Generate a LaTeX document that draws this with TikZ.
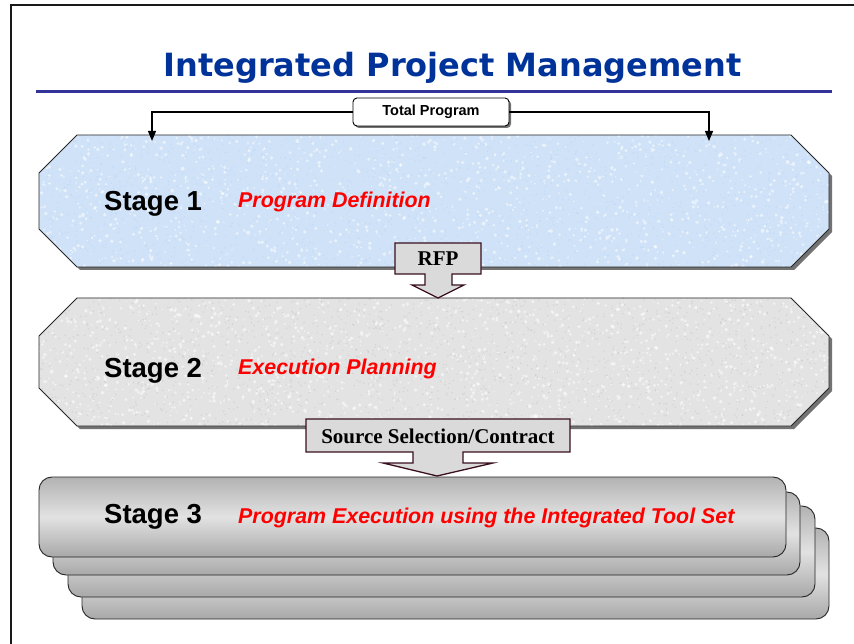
\documentclass[tikz,border=0pt]{standalone}
\usepackage{fontspec}
\setmainfont{Liberation Sans}
\newfontfamily\titlefont{DejaVu Sans}
\newfontfamily\bannerfont{Liberation Serif}
\usetikzlibrary{arrows.meta,shadows}

\definecolor{titleblue}{HTML}{003399}
\definecolor{rulecol}{HTML}{333399}
\definecolor{stageblue}{HTML}{CFE2F8}
\definecolor{speckblue}{HTML}{B8D2F2}
\definecolor{stagegray}{HTML}{E3E3E3}
\definecolor{bannerline}{HTML}{3A0F1F}
\definecolor{bannerfill}{HTML}{DADADA}
\definecolor{labelred}{HTML}{FF0000}
\definecolor{cardtop}{HTML}{B2B2B2}
\definecolor{cardmid}{HTML}{E2E2E2}
\definecolor{cardbot}{HTML}{A8A8A8}

% octagonal stage band: left x, top y, right x, bottom y
\newcommand\octband[4]{(#1+38,#2) -- (#3-38,#2) -- (#3,#2+38) -- (#3,#4-38)
  -- (#3-38,#4) -- (#1+38,#4) -- (#1,#4-38) -- (#1,#2+38) -- cycle}

% mottled surface: top y, height, count, light colour, dark colour
\newcommand\mottle[5]{%
  \foreach \k in {1,...,#3}{%
    \pgfmathsetmacro\mx{39+rnd*790}%
    \pgfmathsetmacro\my{#1+rnd*#2}%
    \pgfmathsetmacro\mr{0.6+rnd*1.4}%
    \fill[#4, opacity=0.55] (\mx,\my) circle (\mr);
    \pgfmathsetmacro\nx{39+rnd*790}%
    \pgfmathsetmacro\ny{#1+rnd*#2}%
    \fill[#5, opacity=0.45] (\nx,\ny) circle (0.8);
  }}

\tikzset{
  stageband/.style={draw=black!85, line width=0.9pt},
  bandshadow/.style={fill=black!55, draw=none},
  card/.style={draw=black!85, line width=0.9pt, rounded corners=13pt,
    top color=cardtop, bottom color=cardbot, middle color=cardmid},
  stagelabel/.style={anchor=base west, inner sep=0pt,
    font=\bfseries\fontsize{27.5}{27.5}\selectfont},
  stagetitle/.style={anchor=base west, inner sep=0pt, text=labelred,
    font=\bfseries\itshape\fontsize{21.4}{21.4}\selectfont},
  banner/.style={fill=bannerfill, draw=bannerline, line width=1.3pt, line join=miter},
  bannertext/.style={inner sep=0pt, font=\bannerfont\bfseries\fontsize{21}{21}\selectfont},
  totalbox/.style={draw=black, fill=white, line width=0.9pt, rounded corners=4pt,
    minimum width=156pt, minimum height=28pt, inner sep=0pt,
    font=\bfseries\fontsize{14.5}{14.5}\selectfont,
    drop shadow={shadow xshift=2pt, shadow yshift=-2pt, fill=black!55, opacity=1}},
  spread/.style={draw=black, line width=1.2pt, -{Triangle[length=10pt,width=8pt]}}
}

\begin{document}
\begin{tikzpicture}[x=1pt,y=-1pt]
\pgfmathsetseed{4242}
\useasboundingbox (0,0) rectangle (854,644);
\fill[white] (0,0) rectangle (854,644);

% page frame
\draw[black!90, line width=1.2pt] (11,644) -- (11,5) -- (854,5);

% heading and rule
\node[anchor=base, inner sep=0pt, text=titleblue,
  font=\titlefont\bfseries\fontsize{32}{32}\selectfont] (title) at (452.5,77)
  {Integrated Project Management};
\draw[rulecol, line width=3pt] (36,92) -- (832,92);

% stage 1 band
\fill[bandshadow] [shift={(3,3)}] \octband{39}{135}{829}{267};
\fill[stageblue] \octband{39}{135}{829}{267};
\begin{scope}
  \clip \octband{39}{135}{829}{267};
  \mottle{135}{132}{1400}{white}{speckblue}
\end{scope}
\draw[stageband] \octband{39}{135}{829}{267};
\node[stagelabel] (s1) at (104,211) {Stage 1};
\node[stagetitle] (s1t) at (238,208) {Program Definition};

% stage 2 band
\fill[bandshadow] [shift={(3,3)}] \octband{39}{298}{829}{426};
\fill[stagegray] \octband{39}{298}{829}{426};
\begin{scope}
  \clip \octband{39}{298}{829}{426};
  \mottle{298}{128}{1600}{white}{black!25}
\end{scope}
\draw[stageband] \octband{39}{298}{829}{426};
\node[stagelabel] (s2) at (104,377) {Stage 2};
\node[stagetitle] (s2t) at (238,374) {Execution Planning};

% stage 3: stacked cards, back to front
\path[card] (82,528) rectangle (829,619);
\path[card] (68,506) rectangle (815,597);
\path[card] (53,492) rectangle (800,575);
\path[card] (39,477) rectangle (786,557);
\node[stagelabel] (s3) at (104,523) {Stage 3};
\node[stagetitle] (s3t) at (238,523) {Program Execution using the Integrated Tool Set};

% banner arrows between stages
\filldraw[banner] (395,243) -- (481,243) -- (481,274) -- (452,274) -- (452,285)
  -- (464,285) -- (438,298) -- (412,285) -- (425,285) -- (425,274)
  -- (395,274) -- cycle;
\node[bannertext] (rfp) at (438,259) {RFP};

\filldraw[banner] (306,419) -- (570,419) -- (570,452) -- (463,452) -- (463,463)
  -- (493,463) -- (437,476) -- (383,463) -- (413,463) -- (413,452)
  -- (306,452) -- cycle;
\node[bannertext] (src) at (438,436) {Source Selection/Contract};

% total program span
\coordinate (lefttip) at (152,141);
\coordinate (righttip) at (709,141);
\node[totalbox] (tp) at (431,112) {Total Program};
\draw[spread] (tp.west) -| (lefttip);
\draw[spread] (tp.east) -| (righttip);
\end{tikzpicture}
\end{document}
